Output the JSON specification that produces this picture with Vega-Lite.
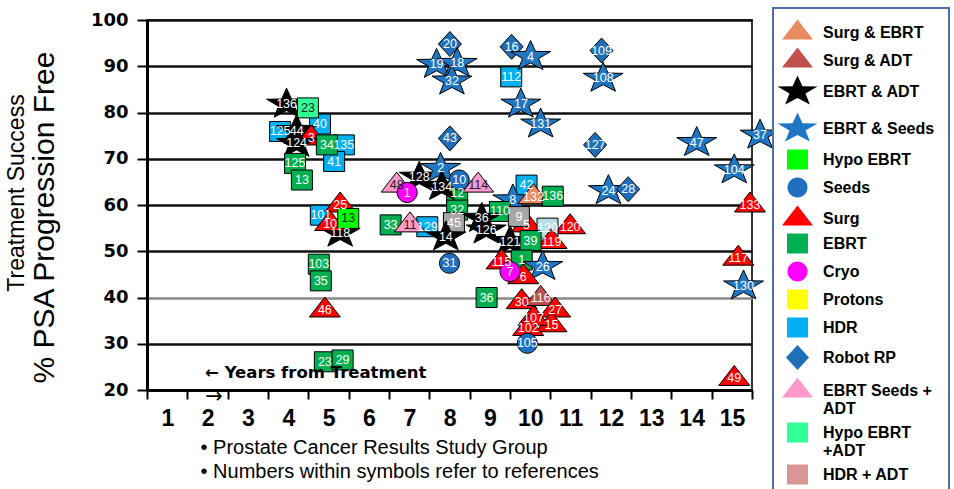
{
  "$schema": "https://vega.github.io/schema/vega-lite/v6.json",
  "width": 605,
  "height": 370,
  "autosize": {"type": "none"},
  "padding": {"left": 147, "top": 20, "right": 202, "bottom": 99},
  "background": "white",
  "config": {
    "view": {"stroke": "#333333", "strokeWidth": 2},
    "font": "Liberation Sans",
    "legend": {"strokeWidth": 2}
  },
  "title": {
    "text": "Treatment Success",
    "orient": "left",
    "anchor": "middle",
    "font": "Liberation Sans",
    "fontSize": 23,
    "fontWeight": "normal",
    "color": "black",
    "offset": 0,
    "dx": 12
  },
  "datasets": {
    "pts": [
      {"type": "HDR", "ref": "125", "year": 3.30, "pct": 75.9},
      {"type": "HDR", "ref": "40", "year": 4.29, "pct": 77.5},
      {"type": "HDR", "ref": "135", "year": 4.88, "pct": 73.0},
      {"type": "HDR", "ref": "41", "year": 4.64, "pct": 69.4},
      {"type": "HDR", "ref": "101", "year": 4.31, "pct": 57.8},
      {"type": "HDR", "ref": "112", "year": 9.03, "pct": 87.7},
      {"type": "HDR", "ref": "42", "year": 9.41, "pct": 64.3},
      {"type": "HDR", "ref": "129", "year": 6.95, "pct": 55.3},
      {"type": "EBRT & ADT", "ref": "136", "year": 3.46, "pct": 81.8},
      {"type": "Hypo EBRT +ADT", "ref": "23", "year": 3.99, "pct": 81.0},
      {"type": "EBRT & ADT", "ref": "44", "year": 3.71, "pct": 76.1},
      {"type": "Surg", "ref": "3", "year": 4.07, "pct": 74.5},
      {"type": "EBRT & ADT", "ref": "124", "year": 3.71, "pct": 73.3},
      {"type": "EBRT", "ref": "34", "year": 4.46, "pct": 73.0},
      {"type": "EBRT", "ref": "125", "year": 3.67, "pct": 69.0},
      {"type": "EBRT", "ref": "13", "year": 3.84, "pct": 65.4},
      {"type": "EBRT & ADT", "ref": "118", "year": 4.79, "pct": 53.9},
      {"type": "Surg", "ref": "25", "year": 4.79, "pct": 60.0},
      {"type": "Surg", "ref": "10", "year": 4.54, "pct": 56.0},
      {"type": "Hypo EBRT", "ref": "13", "year": 4.99, "pct": 57.1},
      {"type": "EBRT", "ref": "103", "year": 4.26, "pct": 47.2},
      {"type": "EBRT", "ref": "35", "year": 4.31, "pct": 43.6},
      {"type": "Surg", "ref": "46", "year": 4.41, "pct": 37.3},
      {"type": "EBRT", "ref": "23", "year": 4.41, "pct": 26.1},
      {"type": "EBRT", "ref": "29", "year": 4.85, "pct": 26.5},
      {"type": "Robot RP", "ref": "20", "year": 7.51, "pct": 94.8},
      {"type": "EBRT & Seeds", "ref": "19", "year": 7.18, "pct": 90.4},
      {"type": "EBRT & Seeds", "ref": "18", "year": 7.69, "pct": 90.6},
      {"type": "EBRT & Seeds", "ref": "32", "year": 7.56, "pct": 86.8},
      {"type": "Robot RP", "ref": "16", "year": 9.04, "pct": 94.2},
      {"type": "EBRT & Seeds", "ref": "4", "year": 9.51, "pct": 92.1},
      {"type": "EBRT & Seeds", "ref": "17", "year": 9.27, "pct": 81.8},
      {"type": "EBRT & Seeds", "ref": "131", "year": 9.76, "pct": 77.5},
      {"type": "Robot RP", "ref": "43", "year": 7.51, "pct": 74.4},
      {"type": "EBRT Seeds + ADT", "ref": "48", "year": 6.19, "pct": 64.3},
      {"type": "EBRT & ADT", "ref": "128", "year": 6.75, "pct": 66.0},
      {"type": "Cryo", "ref": "1", "year": 6.45, "pct": 62.7},
      {"type": "EBRT", "ref": "12", "year": 7.69, "pct": 62.5},
      {"type": "EBRT", "ref": "32", "year": 7.69, "pct": 58.9},
      {"type": "EBRT & Seeds", "ref": "2", "year": 7.28, "pct": 67.9},
      {"type": "EBRT & ADT", "ref": "134", "year": 7.31, "pct": 64.0},
      {"type": "Seeds", "ref": "10", "year": 7.74, "pct": 65.4},
      {"type": "EBRT Seeds + ADT", "ref": "114", "year": 8.21, "pct": 64.3},
      {"type": "EBRT & Seeds", "ref": "8", "year": 9.07, "pct": 61.1},
      {"type": "Surg & EBRT", "ref": "132", "year": 9.58, "pct": 61.8},
      {"type": "EBRT", "ref": "136", "year": 10.06, "pct": 61.9},
      {"type": "EBRT", "ref": "110", "year": 8.75, "pct": 58.6},
      {"type": "EBRT", "ref": "33", "year": 6.04, "pct": 55.7},
      {"type": "EBRT Seeds + ADT", "ref": "11", "year": 6.52, "pct": 55.7},
      {"type": "Other", "ref": "45", "year": 7.61, "pct": 56.2},
      {"type": "EBRT & ADT", "ref": "14", "year": 7.41, "pct": 53.1},
      {"type": "EBRT & ADT", "ref": "36", "year": 8.30, "pct": 57.1},
      {"type": "EBRT & ADT", "ref": "126", "year": 8.41, "pct": 54.6},
      {"type": "Surg", "ref": "5", "year": 9.41, "pct": 55.7},
      {"type": "Other", "ref": "9", "year": 9.22, "pct": 57.5},
      {"type": "Surg", "ref": "120", "year": 10.49, "pct": 55.3},
      {"type": "HDR pale", "ref": "120", "year": 9.93, "pct": 55.0},
      {"type": "Surg", "ref": "119", "year": 10.03, "pct": 52.1},
      {"type": "EBRT & ADT", "ref": "121", "year": 9.00, "pct": 52.1},
      {"type": "EBRT", "ref": "39", "year": 9.51, "pct": 52.3},
      {"type": "Seeds", "ref": "31", "year": 7.50, "pct": 47.4},
      {"type": "Surg", "ref": "115", "year": 8.79, "pct": 47.7},
      {"type": "EBRT", "ref": "1", "year": 9.29, "pct": 48.1},
      {"type": "EBRT & Seeds", "ref": "26", "year": 9.81, "pct": 46.7},
      {"type": "Surg", "ref": "6", "year": 9.33, "pct": 44.5},
      {"type": "Cryo", "ref": "7", "year": 9.00, "pct": 45.6},
      {"type": "EBRT", "ref": "36", "year": 8.42, "pct": 40.0},
      {"type": "Surg", "ref": "30", "year": 9.29, "pct": 39.1},
      {"type": "Surg & ADT", "ref": "116", "year": 9.76, "pct": 39.8},
      {"type": "Surg", "ref": "27", "year": 10.12, "pct": 37.3},
      {"type": "Surg", "ref": "15", "year": 10.03, "pct": 34.1},
      {"type": "Surg", "ref": "107", "year": 9.58, "pct": 35.5},
      {"type": "Surg", "ref": "102", "year": 9.45, "pct": 33.3},
      {"type": "Seeds", "ref": "105", "year": 9.43, "pct": 30.1},
      {"type": "Robot RP", "ref": "109", "year": 11.27, "pct": 93.4},
      {"type": "EBRT & Seeds", "ref": "108", "year": 11.31, "pct": 87.4},
      {"type": "Robot RP", "ref": "127", "year": 11.11, "pct": 73.0},
      {"type": "EBRT & Seeds", "ref": "47", "year": 13.63, "pct": 73.5},
      {"type": "EBRT & Seeds", "ref": "37", "year": 15.20, "pct": 75.1},
      {"type": "EBRT & Seeds", "ref": "104", "year": 14.56, "pct": 67.6},
      {"type": "EBRT & Seeds", "ref": "24", "year": 11.44, "pct": 63.1},
      {"type": "Robot RP", "ref": "28", "year": 11.93, "pct": 63.4},
      {"type": "Surg", "ref": "133", "year": 14.95, "pct": 60.0},
      {"type": "Surg", "ref": "117", "year": 14.66, "pct": 48.5},
      {"type": "EBRT & Seeds", "ref": "130", "year": 14.79, "pct": 42.5},
      {"type": "Surg", "ref": "49", "year": 14.56, "pct": 22.5}
    ],
    "notes": [
      {"kind": "years", "note": "← Years from Treatment", "year": 1.44, "pct": 23.7},
      {"kind": "arrow", "note": "→", "year": 1.66, "pct": 18.55}
    ]
  },
  "layer": [
    {
      "data": {"name": "pts"},
      "mark": {"type": "point", "filled": true, "opacity": 1, "size": 400, "stroke": "black", "strokeWidth": 1, "clip": false},
      "encoding": {
        "x": {
          "field": "year", "type": "quantitative",
          "scale": {"domain": [0, 15], "nice": false, "zero": false},
          "axis": {
            "values": [0,1,2,3,4,5,6,7,8,9,10,11,12,13,14,15],
            "labelExpr": "datum.value == 0 ? '' : datum.label",
            "labelOffset": -20,
            "labelFont": "Liberation Sans", "labelFontSize": 23, "labelFontWeight": "bold", "labelColor": "black",
            "labelPadding": 8, "labelOverlap": false, "labelFlush": false,
            "tickColor": "black", "tickWidth": 2, "tickSize": 9,
            "domainColor": "black", "domainWidth": 3,
            "grid": false,
            "title": ["• Prostate Cancer Results Study Group", "• Numbers within symbols refer to references"],
            "titleFont": "Liberation Sans", "titleFontSize": 20, "titleFontWeight": "normal", "titleColor": "black",
            "titleAlign": "left", "titleAnchor": "start", "titleX": 53, "titleY": 47, "titleBaseline": "top", "titleLineHeight": 24
          }
        },
        "y": {
          "field": "pct", "type": "quantitative",
          "scale": {"domain": [20, 100], "nice": false, "zero": false},
          "axis": {
            "values": [20,30,40,50,60,70,80,90,100],
            "labelFont": "DejaVu Sans", "labelFontSize": 18, "labelFontWeight": "bold", "labelColor": "black",
            "labelPadding": 9,
            "tickColor": "black", "tickWidth": 2, "tickSize": 10,
            "domainColor": "black", "domainWidth": 3,
            "grid": true,
            "gridColor": {"condition": {"test": "datum.value == 40", "value": "#8a8a8a"}, "value": "#111111"},
            "gridWidth": 2.5,
            "title": "% PSA Progression Free",
            "titleFont": "Liberation Sans", "titleFontSize": 30, "titleFontWeight": "normal", "titleColor": "black",
            "titleAngle": 270, "titleX": -94, "titleY": 197, "titleBaseline": "alphabetic", "titleAlign": "center"
          }
        },
        "shape": {
          "field": "type", "type": "nominal",
          "scale": {
            "domain": ["Surg & EBRT","Surg & ADT","EBRT & ADT","EBRT & Seeds","Hypo EBRT","Seeds","Surg","EBRT","Cryo","Protons","HDR","Robot RP","EBRT Seeds + ADT","Hypo EBRT +ADT","HDR + ADT","Other","HDR pale"],
            "range": [
              "M0,-1.3L1.55,0.7L-1.55,0.7Z",
              "M0,-1.3L1.55,0.7L-1.55,0.7Z",
              "M0,-1.6L0.494,-0.518L2,-0.494L0.8,0.198L1.237,1.294L0,0.64L-1.237,1.294L-0.8,0.198L-2,-0.494L-0.494,-0.518Z",
              "M0,-1.6L0.494,-0.518L2,-0.494L0.8,0.198L1.237,1.294L0,0.64L-1.237,1.294L-0.8,0.198L-2,-0.494L-0.494,-0.518Z",
              "M-1.05,-1L1.05,-1L1.05,1L-1.05,1Z",
              "M1,0A1,1,0,1,1,-1,0A1,1,0,1,1,1,0Z",
              "M0,-1.3L1.55,0.7L-1.55,0.7Z",
              "M-1.05,-1L1.05,-1L1.05,1L-1.05,1Z",
              "M1,0A1,1,0,1,1,-1,0A1,1,0,1,1,1,0Z",
              "M-1.05,-1L1.05,-1L1.05,1L-1.05,1Z",
              "M-1.05,-1L1.05,-1L1.05,1L-1.05,1Z",
              "M0,-1.25L1.15,0L0,1.25L-1.15,0Z",
              "M0,-1.3L1.55,0.7L-1.55,0.7Z",
              "M-1.05,-1L1.05,-1L1.05,1L-1.05,1Z",
              "M-1.05,-1L1.05,-1L1.05,1L-1.05,1Z",
              "M-1.05,-1L1.05,-1L1.05,1L-1.05,1Z",
              "M-1.05,-1L1.05,-1L1.05,1L-1.05,1Z"
            ]
          },
          "legend": {
            "orient": "none", "legendX": 626, "legendY": -12, "direction": "vertical", "columns": 1,
            "title": null,
            "values": ["Surg & EBRT","Surg & ADT","EBRT & ADT","EBRT & Seeds","Hypo EBRT","Seeds","Surg","EBRT","Cryo","Protons","HDR","Robot RP","EBRT Seeds + ADT","Hypo EBRT +ADT","HDR + ADT"],
            "symbolSize": 400, "symbolStrokeColor": "black", "symbolStrokeWidth": 1, "symbolOpacity": 1,
            "labelFont": "Liberation Sans", "labelFontSize": 16, "labelFontWeight": "bold", "labelColor": "black",
            "labelOffset": 15, "labelLimit": 200,
            "labelExpr": "datum.label == 'EBRT Seeds + ADT' ? ['EBRT Seeds +', 'ADT'] : datum.label == 'Hypo EBRT +ADT' ? ['Hypo EBRT', '+ADT'] : datum.label",
            "padding": 14, "strokeColor": "#4F6FA5", "fillColor": "white",
            "gridAlign": "each", "rowPadding": 3
          }
        },
        "fill": {
          "field": "type", "type": "nominal",
          "scale": {
            "domain": ["Surg & EBRT","Surg & ADT","EBRT & ADT","EBRT & Seeds","Hypo EBRT","Seeds","Surg","EBRT","Cryo","Protons","HDR","Robot RP","EBRT Seeds + ADT","Hypo EBRT +ADT","HDR + ADT","Other","HDR pale"],
            "range": ["#E98B5E","#C0504D","#000000","#1F77C4","#00FF00","#1F6FBF","#FF0000","#00B050","#FF00FF","#FFFF00","#00B0F0","#1F6FB8","#FF99CC","#33FF99","#D99694","#A6A6A6","#B7DDE8"]
          },
          "legend": {
            "orient": "none", "legendX": 626, "legendY": -12, "direction": "vertical", "columns": 1,
            "title": null,
            "values": ["Surg & EBRT","Surg & ADT","EBRT & ADT","EBRT & Seeds","Hypo EBRT","Seeds","Surg","EBRT","Cryo","Protons","HDR","Robot RP","EBRT Seeds + ADT","Hypo EBRT +ADT","HDR + ADT"],
            "symbolSize": 400, "symbolStrokeColor": "black", "symbolStrokeWidth": 1, "symbolOpacity": 1,
            "labelFont": "Liberation Sans", "labelFontSize": 16, "labelFontWeight": "bold", "labelColor": "black",
            "labelOffset": 15, "labelLimit": 200,
            "labelExpr": "datum.label == 'EBRT Seeds + ADT' ? ['EBRT Seeds +', 'ADT'] : datum.label == 'Hypo EBRT +ADT' ? ['Hypo EBRT', '+ADT'] : datum.label",
            "padding": 14, "strokeColor": "#4F6FA5", "fillColor": "white",
            "gridAlign": "each", "rowPadding": 3
          }
        }
      }
    },
    {
      "data": {"name": "pts"},
      "mark": {"type": "text", "font": "Liberation Sans", "fontSize": 12.5, "align": "center", "baseline": "middle", "clip": false},
      "encoding": {
        "x": {"field": "year", "type": "quantitative"},
        "y": {"field": "pct", "type": "quantitative"},
        "text": {"field": "ref", "type": "nominal"},
        "color": {
          "condition": {"test": "indexof(['EBRT Seeds + ADT', 'Hypo EBRT', 'Hypo EBRT +ADT'], datum.type) >= 0", "value": "#222222"},
          "value": "white"
        }
      }
    },
    {
      "data": {"name": "notes"},
      "transform": [{"filter": "datum.kind == 'years'"}],
      "mark": {"type": "text", "font": "DejaVu Sans", "fontSize": 16.5, "fontWeight": "bold", "align": "left", "baseline": "middle", "color": "black", "clip": false},
      "encoding": {
        "x": {"field": "year", "type": "quantitative"},
        "y": {"field": "pct", "type": "quantitative"},
        "text": {"field": "note", "type": "nominal"}
      }
    },
    {
      "data": {"name": "notes"},
      "transform": [{"filter": "datum.kind == 'arrow'"}],
      "mark": {"type": "text", "font": "DejaVu Sans", "fontSize": 21, "align": "center", "baseline": "middle", "color": "black", "clip": false},
      "encoding": {
        "x": {"field": "year", "type": "quantitative"},
        "y": {"field": "pct", "type": "quantitative"},
        "text": {"field": "note", "type": "nominal"}
      }
    }
  ]
}
